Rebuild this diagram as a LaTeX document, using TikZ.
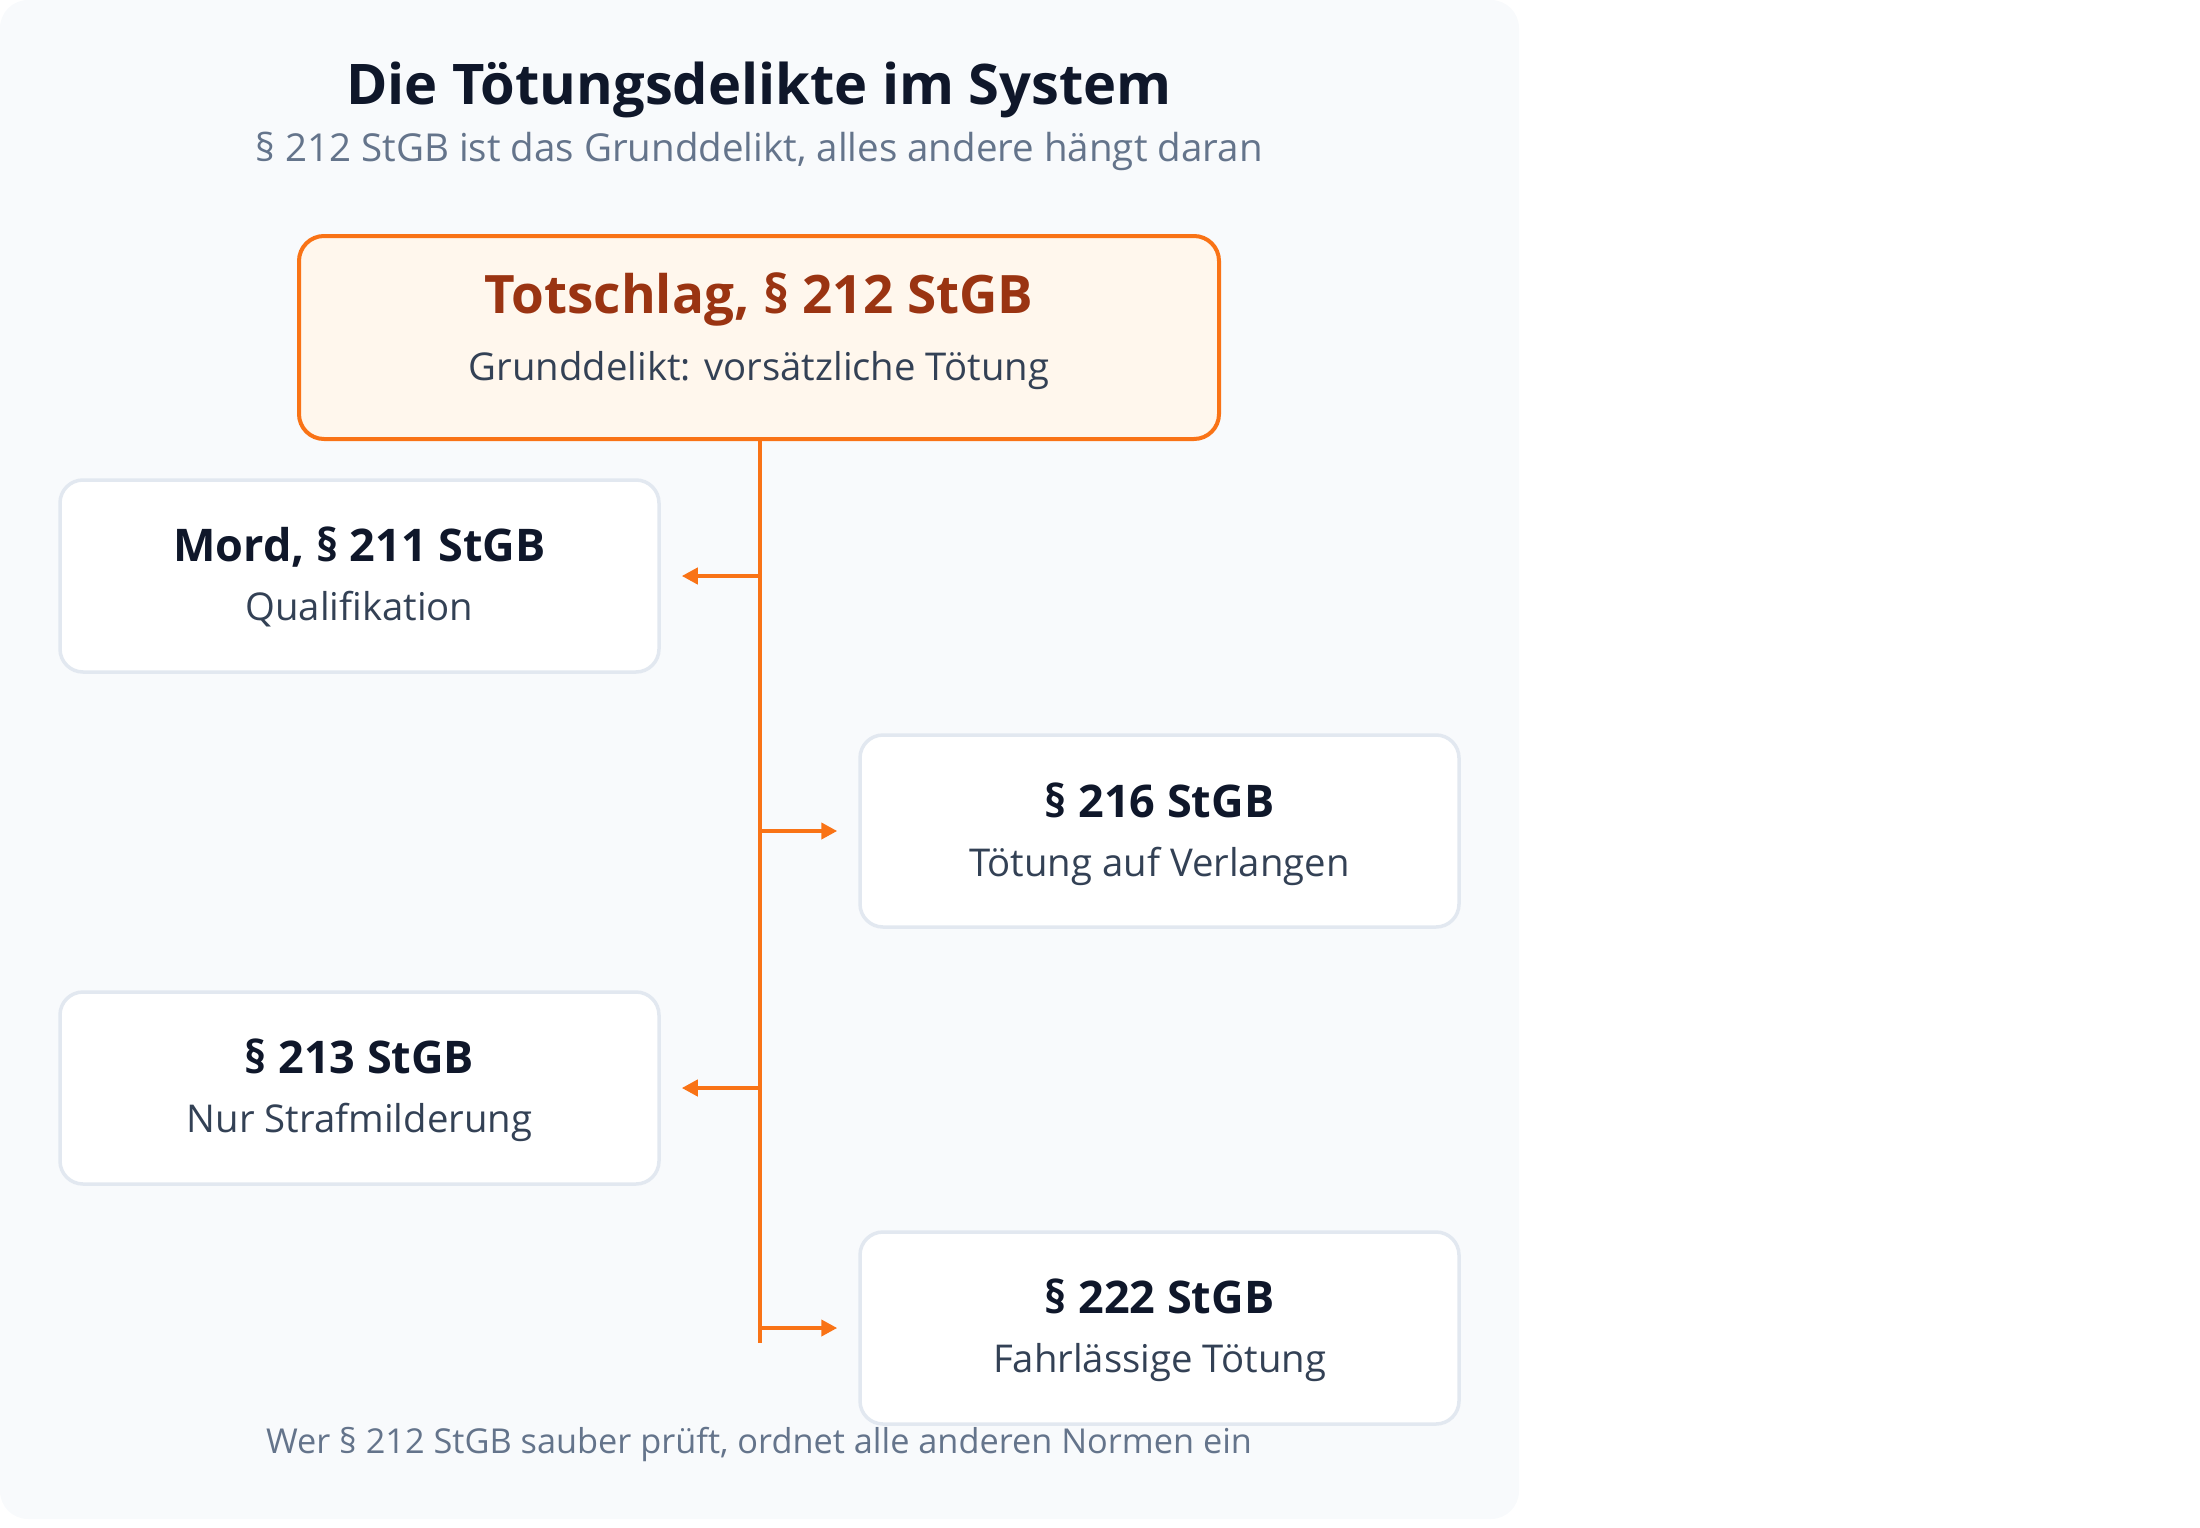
\documentclass[tikz,border=0pt]{standalone}
\usepackage{fontspec}
\setmainfont{Open Sans}
\usetikzlibrary{arrows.meta}
\definecolor{panelbg}{HTML}{F8FAFC}
\definecolor{orange}{HTML}{F97316}
\definecolor{topfill}{HTML}{FFF7ED}
\definecolor{totred}{HTML}{9A3412}
\definecolor{darktxt}{HTML}{0F172A}
\definecolor{subtxt}{HTML}{334155}
\definecolor{muted}{HTML}{64748B}
\definecolor{boxline}{HTML}{E2E8F0}
\tikzset{
  topbox/.style={draw=orange, line width=4pt, fill=topfill, rounded corners=25pt,
    minimum width=920pt, minimum height=203pt, inner sep=0pt},
  normbox/.style={draw=boxline, line width=3.5pt, fill=white, rounded corners=23pt,
    minimum width=599pt, minimum height=192pt, inner sep=0pt},
  txt/.style={anchor=base, inner sep=0pt},
  maintitle/.style={txt, text=darktxt, font=\fontsize{56}{60}\selectfont\bfseries},
  subtitle/.style={txt, text=muted, font=\fontsize{38.5}{44}\selectfont},
  footer/.style={txt, text=muted, font=\fontsize{34.3}{40}\selectfont},
  tottitle/.style={txt, text=totred, font=\fontsize{53}{60}\selectfont\bfseries},
  boxtitle/.style={txt, text=darktxt, font=\fontsize{45}{50}\selectfont\bfseries},
  boxsub/.style={txt, text=subtxt, font=\fontsize{38.3}{44}\selectfont},
  conn/.style={draw=orange, line width=4.5pt},
  arr/.style={conn, -{Triangle[length=16pt,width=16pt]}, shorten >=21pt},
}
\begin{document}
\begin{tikzpicture}[x=1pt,y=-1pt]
\useasboundingbox (0,0) rectangle (2200,1528);
\path[fill=panelbg, rounded corners=28pt] (0,0) rectangle (1519,1519);

\node[maintitle] (title) at (759,104) {Die Tötungsdelikte im System};
\node[subtitle] (sub) at (759,161) {§ 212 StGB ist das Grunddelikt, alles andere hängt daran};

\node[topbox] (tot) at (759,337.5) {};
\node[tottitle] (totT) at (759,313) {Totschlag, § 212 StGB};
\node[boxsub] (totS) at (759,380) {Grunddelikt: vorsätzliche Tötung};

\node[normbox] (mord) at (359.5,576) {};
\node[boxtitle] (mordT) at (359.5,561) {Mord, § 211 StGB};
\node[boxsub] (mordS) at (359.5,620) {Qualifikation};

\node[normbox] (p216) at (1159.5,831) {};
\node[boxtitle] (p216T) at (1159.5,817) {§ 216 StGB};
\node[boxsub] (p216S) at (1159.5,876) {Tötung auf Verlangen};

\node[normbox] (p213) at (359.5,1088) {};
\node[boxtitle] (p213T) at (359.5,1073) {§ 213 StGB};
\node[boxsub] (p213S) at (359.5,1132) {Nur Strafmilderung};

\node[normbox] (p222) at (1159.5,1328) {};
\node[boxtitle] (p222T) at (1159.5,1313) {§ 222 StGB};
\node[boxsub] (p222S) at (1159.5,1372) {Fahrlässige Tötung};

\node[footer] (foot) at (759,1453) {Wer § 212 StGB sauber prüft, ordnet alle anderen Normen ein};

\coordinate (jend) at (760,1343);
\coordinate (j1) at (760,576);
\coordinate (j2) at (760,831);
\coordinate (j3) at (760,1088);
\coordinate (j4) at (760,1328);

\draw[conn] (tot.south -| jend) -- (jend);
\draw[arr] (j1) -- (mord.east);
\draw[arr] (j2) -- (p216.west);
\draw[arr] (j3) -- (p213.east);
\draw[arr] (j4) -- (p222.west);
\end{tikzpicture}
\end{document}
